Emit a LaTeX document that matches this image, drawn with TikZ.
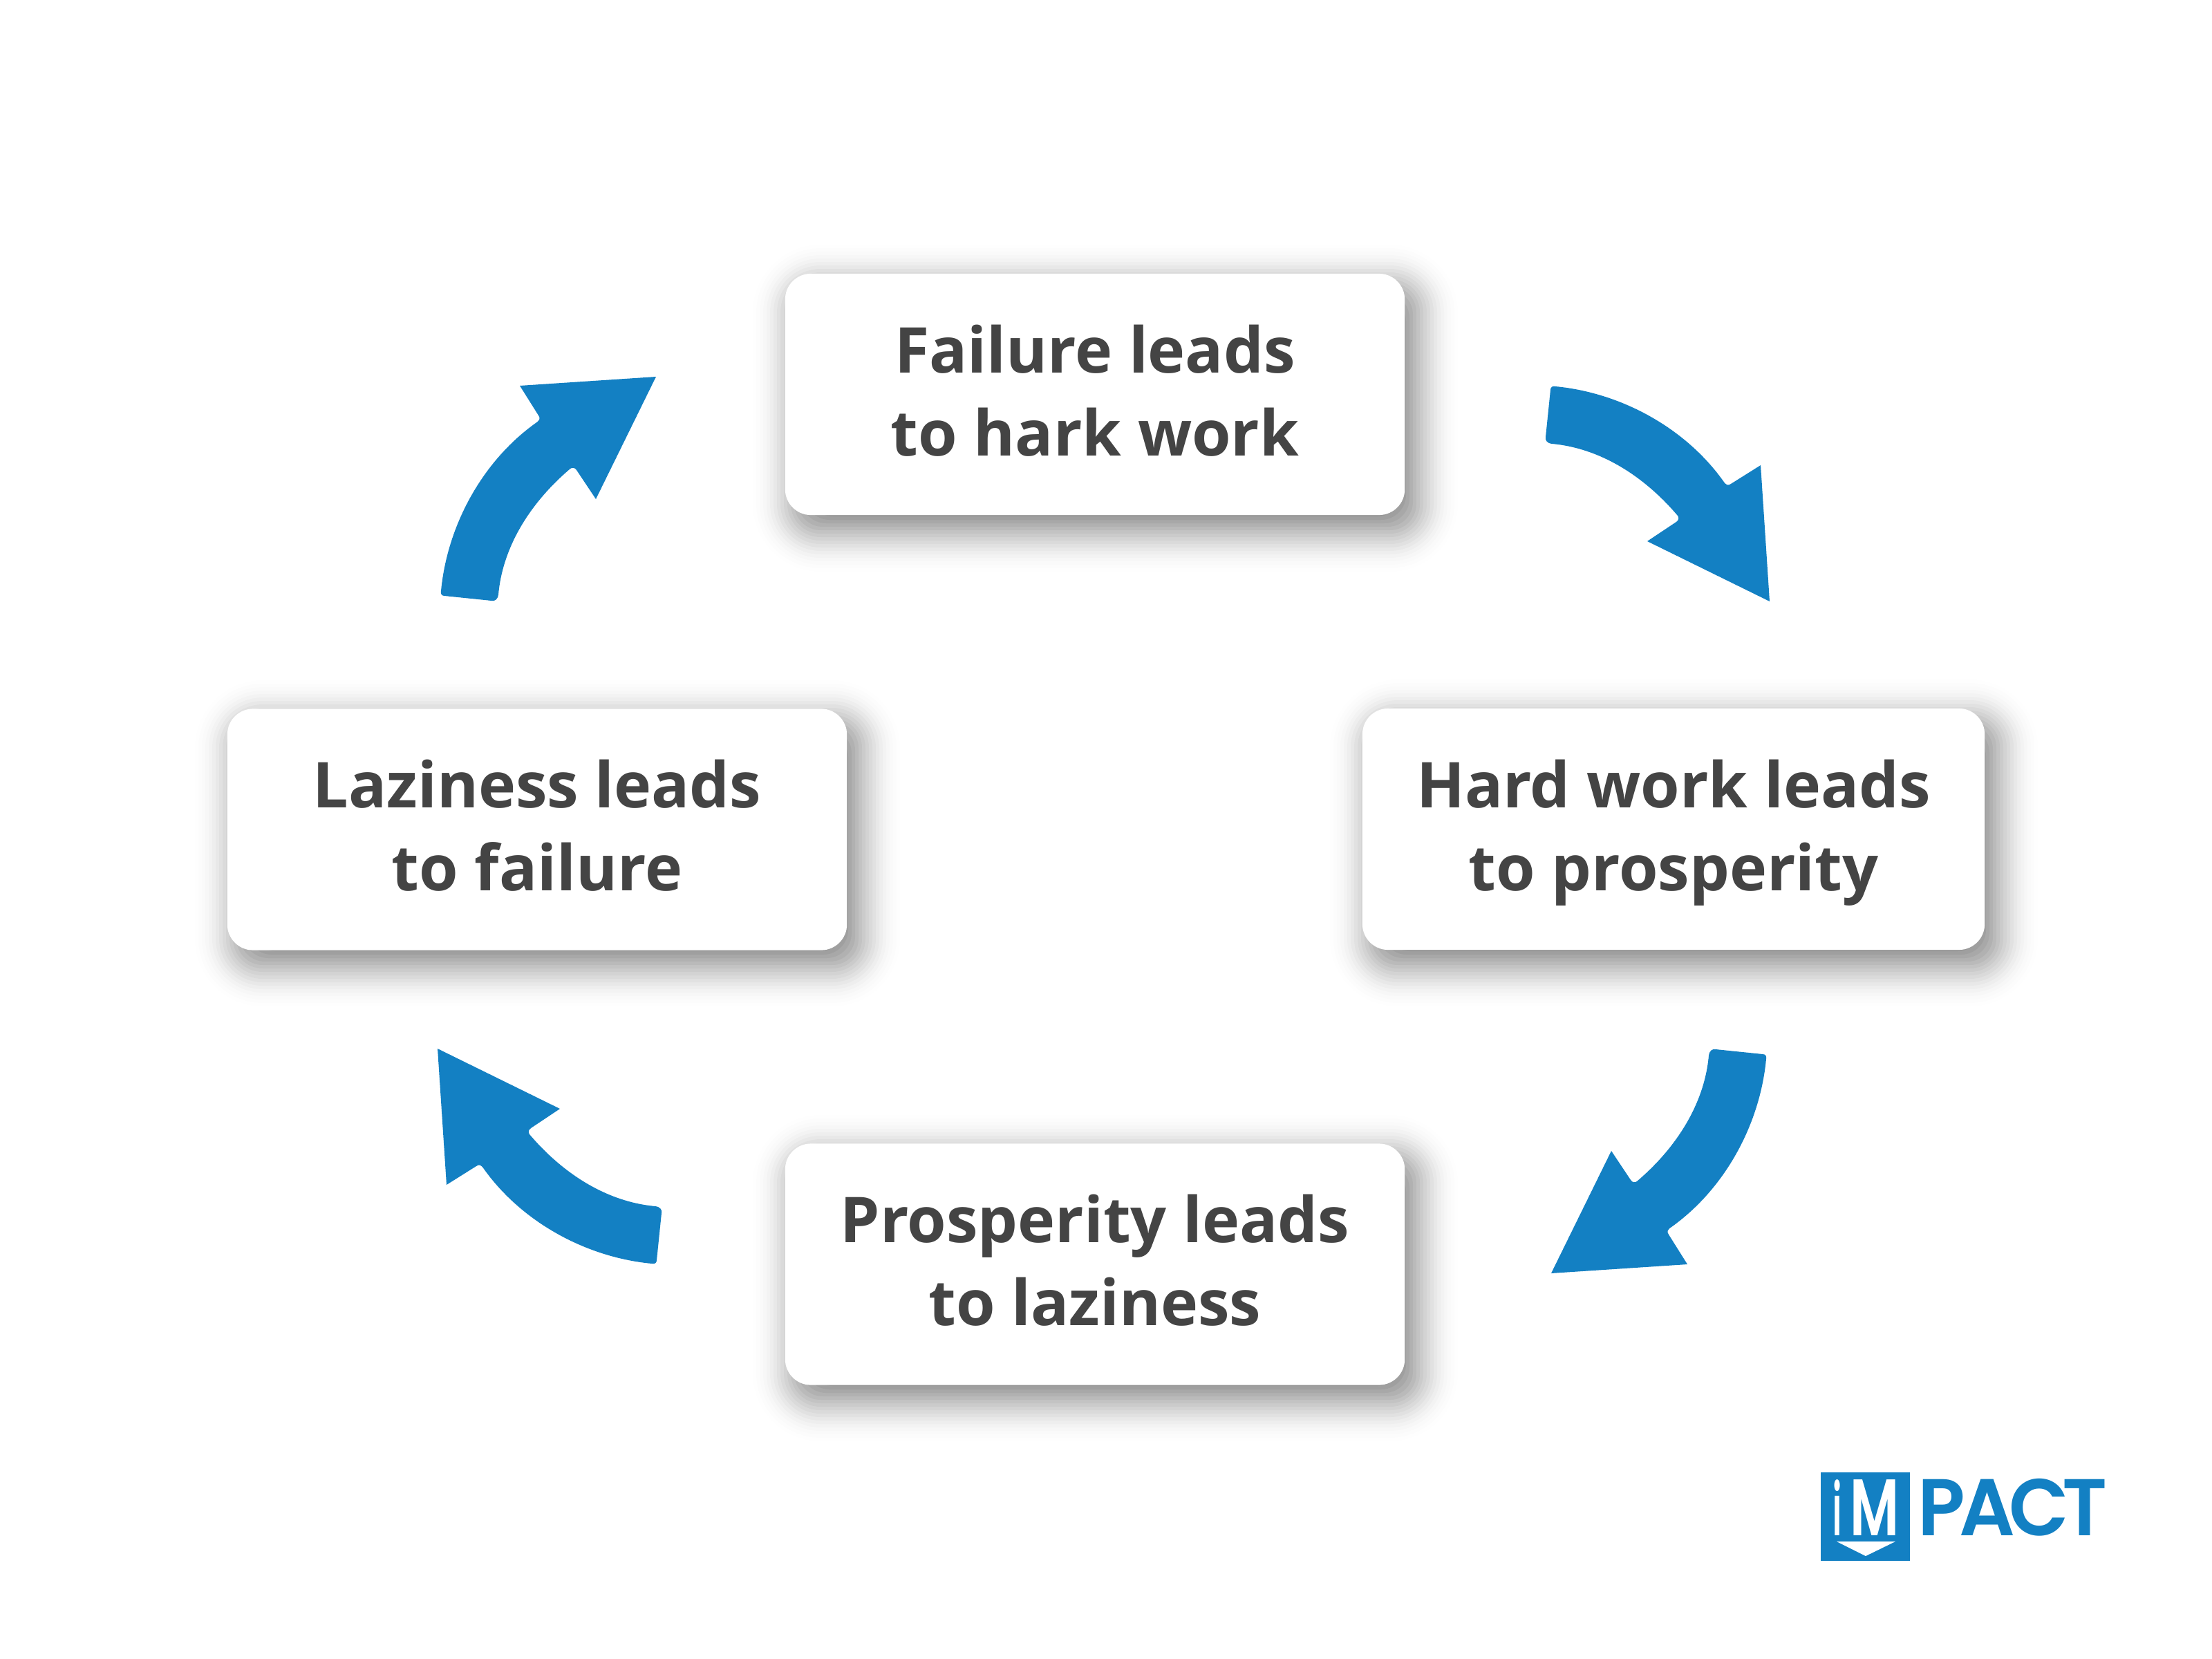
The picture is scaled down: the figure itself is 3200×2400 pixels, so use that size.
\documentclass[tikz,border=0pt]{standalone}
\usepackage{fontspec}
\setmainfont{Open Sans}
\newfontfamily\logofont[LetterSpace=-8]{Poppins SemiBold}
\definecolor{impactblue}{HTML}{1380C3}
\definecolor{boxtext}{HTML}{444444}
\tikzset{
  cardbox/.style={draw=none,fill=white,rounded corners=10.6pt,minimum width=#1,minimum height=99.3pt,inner sep=0pt,align=center,text=boxtext,font=\fontsize{26}{34.14}\selectfont\bfseries},
  cardbox/.default=254.9pt,
  flowarrow/.style={fill=impactblue,draw=none},
  logotext/.style={inner sep=0pt,anchor=base west,font=\logofont\fontsize{32}{32}\selectfont}
}
\newcommand{\boxlines}[2]{\rule{0pt}{24pt}#1\\#2\rule[-7.68pt]{0pt}{7.68pt}}
\newcommand{\softshadow}[4]{%
  \foreach \k in {0,...,20}{
    \pgfmathsetmacro{\g}{62-5*\k}
    \pgfmathsetmacro{\op}{0.0032*(\k+1)}
    \pgfmathsetmacro{\rr}{(36+max(\g,0))*0.2845}
    \fill[black,opacity=\op,rounded corners=\rr pt]
      ({#1+15-\g},{#2+20-\g}) rectangle ({#3+15+\g},{#4+20+\g});
  }%
}
\newcommand{\arrowshape}{%
  \fill[flowarrow] (2250,559) .. controls (2345,568) and (2438,619) .. (2493,696)
   .. controls (2497,702) and (2500,703) .. (2504,700)
   -- (2547,673) -- (2560,870) -- (2383,783) -- (2425,755)
   .. controls (2429,752) and (2429,749) .. (2427,746)
   .. controls (2376,686) and (2312,648) .. (2245,642)
   .. controls (2238,641) and (2235,637) .. (2236,632)
   -- (2243,564) .. controls (2243,560) and (2246,558) .. (2250,559) -- cycle;
}
\begin{document}
\begin{tikzpicture}[x=0.01cm,y=-0.01cm]
\useasboundingbox (0,0) rectangle (3200,2400);
\fill[white] (0,0) rectangle (3200,2400);
% shadows
\softshadow{1136}{396}{2032}{745}
\softshadow{1971}{1025}{2871}{1374}
\softshadow{329}{1026}{1225}{1374}
\softshadow{1136}{1655}{2032}{2003}
% cards
\node[cardbox] (failure) at (1584,570.5) {\boxlines{Failure leads}{to hark work}};
\node[cardbox=256pt] (hardwork) at (2421,1199.5) {\boxlines{Hard work leads}{to prosperity}};
\node[cardbox] (laziness) at (777,1200) {\boxlines{Laziness leads}{to failure}};
\node[cardbox] (prosperity) at (1584,1829) {\boxlines{Prosperity leads}{to laziness}};
% arrows
\arrowshape
\begin{scope}[rotate around={-90:(1916,1198)}]\arrowshape\end{scope}
\begin{scope}[rotate around={180:(1596.5,1193.5)}]\arrowshape\end{scope}
\begin{scope}[rotate around={180:(1596.5,1193.5)},rotate around={-90:(1916,1198)}]\arrowshape\end{scope}
% logo
\fill[impactblue] (2634,2130) rectangle (2763,2258);
\node[logotext,text=white] (logoi) at (2651,2221) {\resizebox{3.7pt}{23pt}{i}};
\node[logotext,text=white] (logom) at (2676,2221) {\resizebox{20.2pt}{23pt}{M}};
\fill[white] (2657,2230) -- (2742,2230) -- (2699,2251) -- cycle;
\node[logotext,text=impactblue] (logopact) at (2774,2221) {\resizebox{78pt}{23.4pt}{PACT}};
\end{tikzpicture}
\end{document}
